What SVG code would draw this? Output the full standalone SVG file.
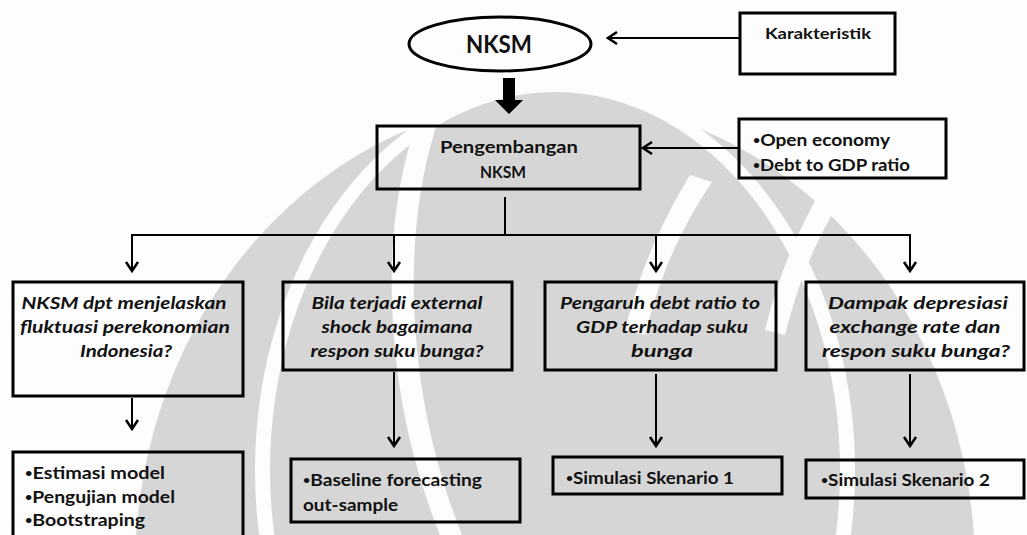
<svg xmlns="http://www.w3.org/2000/svg" width="1027" height="535" viewBox="0 0 1027 535">
<style>
.box{fill:none;stroke:#000;stroke-width:3}
.con{fill:none;stroke:#000;stroke-width:2}
.t{font-family:Lato,"Open Sans","Liberation Sans",sans-serif;font-weight:bold;fill:#111}
.i{font-style:italic;font-size:17px}
.b{font-size:17px}
.d{font-size:11px}
.wm{fill:#d6d6d6}
.wg{fill:#fdfdfd}
</style>
<defs>
<marker id="ah" viewBox="-11 -8 13 16" markerWidth="13" markerHeight="16" refX="0" refY="0" orient="auto" markerUnits="userSpaceOnUse">
<path d="M-9,-6 L0,0 L-9,6" fill="none" stroke="#000" stroke-width="2.5"/>
</marker>
</defs>
<rect width="1027" height="535" fill="#fdfdfd"/>
<g id="watermark">
<ellipse class="wm" cx="555" cy="570" rx="420" ry="470"/>
<ellipse class="wg" cx="555" cy="470" rx="300" ry="390"/>
<ellipse class="wm" cx="555" cy="470" rx="285" ry="378"/>
<path class="wg" d="M425,105 C398,160 390,240 392,300 C394,380 410,460 440,535 L462,535 C432,460 416,380 414,300 C412,240 420,160 447,98 Z"/>
<path class="wg" d="M690,175 C660,225 640,270 625,330 L645,335 C660,275 680,230 712,182 Z"/>
<path class="wg" d="M830,175 C800,225 780,270 765,330 L785,335 C800,275 820,230 852,182 Z"/>
<path class="wg" d="M955,180 C990,240 1005,330 1000,535 L1018,535 C1024,330 1010,240 975,170 Z"/>
</g>
<g id="connectors">
<line class="con" x1="739" y1="38" x2="608" y2="38" marker-end="url(#ah)"/>
<line class="con" x1="738" y1="148" x2="643" y2="148" marker-end="url(#ah)"/>
<polygon points="503,78 515,78 515,100 523,100 509,114 495,100 503,100" fill="#000"/>
<line class="con" x1="505" y1="197" x2="505" y2="235"/>
<line class="con" x1="131" y1="235" x2="911" y2="235"/>
<line class="con" x1="132" y1="235" x2="132" y2="271" marker-end="url(#ah)"/>
<line class="con" x1="394" y1="235" x2="394" y2="271" marker-end="url(#ah)"/>
<line class="con" x1="656" y1="235" x2="656" y2="271" marker-end="url(#ah)"/>
<line class="con" x1="910" y1="235" x2="910" y2="271" marker-end="url(#ah)"/>
<line class="con" x1="132" y1="398" x2="132" y2="429" marker-end="url(#ah)"/>
<line class="con" x1="394" y1="372" x2="394" y2="446" marker-end="url(#ah)"/>
<line class="con" x1="656" y1="374" x2="656" y2="446" marker-end="url(#ah)"/>
<line class="con" x1="910" y1="374" x2="910" y2="446" marker-end="url(#ah)"/>
</g>
<g id="nksm">
<ellipse cx="500" cy="44" rx="91" ry="27" fill="#fdfdfd" stroke="#000" stroke-width="3"/>
<text class="t" x="499" y="53" font-size="25" text-anchor="middle" textLength="66" lengthAdjust="spacingAndGlyphs">NKSM</text>
</g>
<g id="karakteristik">
<rect class="box" x="740" y="13" width="155" height="61" fill="#fdfdfd"/>
<text class="t" x="818" y="39" font-size="16" text-anchor="middle" textLength="106" lengthAdjust="spacingAndGlyphs">Karakteristik</text>
</g>
<g id="pengembangan">
<rect class="box" x="377" y="126" width="263" height="63"/>
<text class="t" x="509" y="153" font-size="17" text-anchor="middle" textLength="138" lengthAdjust="spacingAndGlyphs">Pengembangan</text>
<text class="t" x="503" y="178" font-size="17" text-anchor="middle" textLength="46" lengthAdjust="spacingAndGlyphs">NKSM</text>
</g>
<g id="open">
<rect class="box" x="739" y="119" width="207" height="59" fill="#fdfdfd"/>
<text class="t" x="753" y="146" font-size="17" textLength="137" lengthAdjust="spacingAndGlyphs"><tspan class="d" dy="-2">•</tspan><tspan dy="2">Open economy</tspan></text>
<text class="t" x="753" y="171" font-size="17" textLength="157" lengthAdjust="spacingAndGlyphs"><tspan class="d" dy="-2">•</tspan><tspan dy="2">Debt to GDP ratio</tspan></text>
</g>
<g id="q1">
<rect class="box" x="13" y="282" width="230" height="114"/>
<text class="t i" x="124" y="309" text-anchor="middle" textLength="205" lengthAdjust="spacingAndGlyphs">NKSM dpt menjelaskan</text>
<text class="t i" x="125" y="333" text-anchor="middle" textLength="210" lengthAdjust="spacingAndGlyphs">fluktuasi perekonomian</text>
<text class="t i" x="126" y="357" text-anchor="middle" textLength="92" lengthAdjust="spacingAndGlyphs">Indonesia?</text>
</g>
<g id="q2">
<rect class="box" x="283" y="282" width="229" height="88"/>
<text class="t i" x="397" y="309" text-anchor="middle" textLength="171" lengthAdjust="spacingAndGlyphs">Bila terjadi external</text>
<text class="t i" x="397" y="333" text-anchor="middle" textLength="151" lengthAdjust="spacingAndGlyphs">shock bagaimana</text>
<text class="t i" x="397" y="357" text-anchor="middle" textLength="173" lengthAdjust="spacingAndGlyphs">respon suku bunga?</text>
</g>
<g id="q3">
<rect class="box" x="545" y="282" width="231" height="88"/>
<text class="t i" x="660" y="309" text-anchor="middle" textLength="200" lengthAdjust="spacingAndGlyphs">Pengaruh debt ratio to</text>
<text class="t i" x="662" y="333" text-anchor="middle" textLength="172" lengthAdjust="spacingAndGlyphs">GDP terhadap suku</text>
<text class="t i" x="662" y="357" text-anchor="middle" textLength="62" lengthAdjust="spacingAndGlyphs">bunga</text>
</g>
<g id="q4">
<rect class="box" x="806" y="282" width="218" height="88"/>
<text class="t i" x="918" y="309" text-anchor="middle" textLength="180" lengthAdjust="spacingAndGlyphs">Dampak depresiasi</text>
<text class="t i" x="915" y="333" text-anchor="middle" textLength="171" lengthAdjust="spacingAndGlyphs">exchange rate dan</text>
<text class="t i" x="916" y="357" text-anchor="middle" textLength="188" lengthAdjust="spacingAndGlyphs">respon suku bunga?</text>
</g>
<g id="r1">
<path class="box" d="M13,540 L13,452 L243,452 L243,540"/>
<text class="t b" x="25" y="479" textLength="140" lengthAdjust="spacingAndGlyphs"><tspan class="d" dy="-2">•</tspan><tspan dy="2">Estimasi model</tspan></text>
<text class="t b" x="25" y="503" textLength="150" lengthAdjust="spacingAndGlyphs"><tspan class="d" dy="-2">•</tspan><tspan dy="2">Pengujian model</tspan></text>
<text class="t b" x="25" y="526" textLength="120" lengthAdjust="spacingAndGlyphs"><tspan class="d" dy="-2">•</tspan><tspan dy="2">Bootstraping</tspan></text>
</g>
<g id="r2">
<rect class="box" x="291" y="459" width="229" height="63"/>
<text class="t b" x="303" y="486" textLength="179" lengthAdjust="spacingAndGlyphs"><tspan class="d" dy="-2">•</tspan><tspan dy="2">Baseline forecasting</tspan></text>
<text class="t b" x="303" y="511" textLength="95" lengthAdjust="spacingAndGlyphs">out-sample</text>
</g>
<g id="r3">
<rect class="box" x="553" y="457" width="229" height="37"/>
<text class="t b" x="566" y="484" textLength="168" lengthAdjust="spacingAndGlyphs"><tspan class="d" dy="-2">•</tspan><tspan dy="2">Simulasi Skenario 1</tspan></text>
</g>
<g id="r4">
<rect class="box" x="806" y="460" width="218" height="38"/>
<text class="t b" x="821" y="486" textLength="169" lengthAdjust="spacingAndGlyphs"><tspan class="d" dy="-2">•</tspan><tspan dy="2">Simulasi Skenario 2</tspan></text>
</g>
</svg>
